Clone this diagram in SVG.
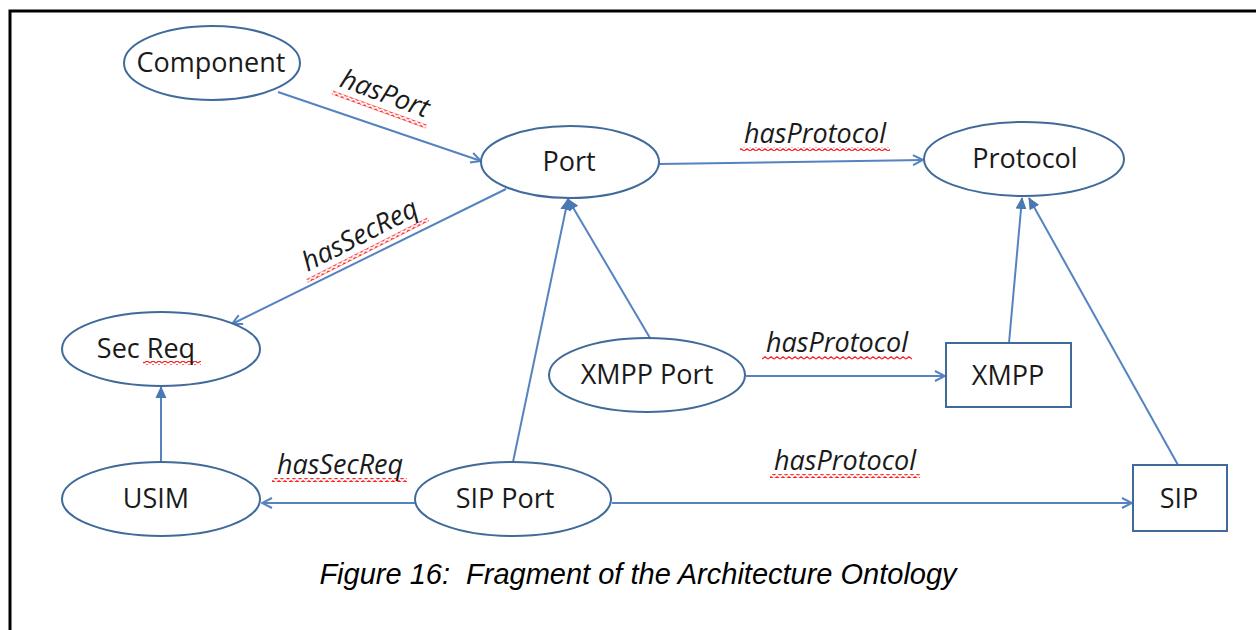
<svg xmlns="http://www.w3.org/2000/svg" width="1256" height="630" viewBox="0 0 1256 630">
  <style>
    .node { fill: #ffffff; stroke: #3f6a99; stroke-width: 2; }
    .name { font-family: "Open Sans", "Liberation Sans", sans-serif; font-size: 27px; fill: #1a1a1a; text-anchor: middle; }
    .rel { font-family: "Open Sans", "Liberation Sans", sans-serif; font-size: 27px; font-style: italic; fill: #1a1a1a; text-anchor: middle; }
    .edge { fill: none; stroke: #5583c0; stroke-width: 2; }
    .assoc { marker-end: url(#open); }
    .isa { marker-end: url(#solid); }
    .squiggle { fill: url(#wave); }
    .caption { font-family: "Liberation Sans", Arial, sans-serif; font-size: 29px; font-style: italic; fill: #000; text-anchor: middle; white-space: pre; }
  </style>
  <defs>
    <marker id="open" viewBox="0 0 12 12" refX="11" refY="6" markerWidth="12" markerHeight="12" markerUnits="userSpaceOnUse" orient="auto">
      <path d="M1,1 L11,6 L1,11" fill="none" stroke="#5583c0" stroke-width="2"/>
    </marker>
    <marker id="solid" viewBox="0 0 12 12" refX="11" refY="6" markerWidth="12" markerHeight="12" markerUnits="userSpaceOnUse" orient="auto">
      <path d="M0,0.5 L12,6 L0,11.5 Z" fill="#4a78b5"/>
    </marker>
    <pattern id="wave" x="0" y="0" width="6" height="4" patternUnits="userSpaceOnUse">
      <path d="M0,3 L3,0.8 L6,3" fill="none" stroke="#ff2020" stroke-width="1.3"/>
    </pattern>
  </defs>

  <!-- page frame -->
  <path d="M10,630 L10,11 L1256,11" fill="none" stroke="#000" stroke-width="3"/>

  <!-- connectors -->
  <g id="connectors">
    <line class="edge assoc" x1="278" y1="92" x2="481" y2="161"/>
    <line class="edge assoc" x1="659" y1="164" x2="923" y2="160"/>
    <line class="edge assoc" x1="506" y1="189" x2="232" y2="324"/>
    <line class="edge isa" x1="650" y1="338" x2="568" y2="199"/>
    <line class="edge isa" x1="513" y1="462" x2="568" y2="199"/>
    <line class="edge assoc" x1="746" y1="376" x2="945" y2="376"/>
    <line class="edge isa" x1="1009" y1="343" x2="1022" y2="198"/>
    <line class="edge isa" x1="1178" y1="465" x2="1029" y2="198"/>
    <line class="edge isa" x1="161" y1="462" x2="161" y2="387"/>
    <line class="edge assoc" x1="415" y1="503" x2="262" y2="503"/>
    <line class="edge assoc" x1="612" y1="503" x2="1132" y2="503"/>

    <!-- relation labels -->
    <g transform="translate(382,102) rotate(20)">
      <rect class="squiggle" x="-50" y="6" width="100" height="4"/>
      <text class="rel" x="0" y="0">hasPort</text>
    </g>
    <g transform="translate(364,243) rotate(-27)">
      <rect class="squiggle" x="-68" y="6" width="136" height="4"/>
      <text class="rel" x="0" y="0">hasSecReq</text>
    </g>
    <rect class="squiggle" x="740" y="147" width="150" height="4"/>
    <text class="rel" x="815" y="143">hasProtocol</text>
    <rect class="squiggle" x="762" y="356" width="150" height="4"/>
    <text class="rel" x="837" y="352">hasProtocol</text>
    <rect class="squiggle" x="272" y="478" width="135" height="4"/>
    <text class="rel" x="340" y="474">hasSecReq</text>
    <rect class="squiggle" x="770" y="474" width="150" height="4"/>
    <text class="rel" x="845" y="470">hasProtocol</text>
  </g>

  <!-- concept nodes -->
  <g id="component">
    <ellipse class="node" cx="212" cy="63" rx="88" ry="37"/>
    <text class="name" x="211" y="72">Component</text>
  </g>
  <g id="port">
    <ellipse class="node" cx="570" cy="162" rx="89" ry="36"/>
    <text class="name" x="569" y="171">Port</text>
  </g>
  <g id="protocol">
    <ellipse class="node" cx="1024" cy="159" rx="100" ry="37"/>
    <text class="name" x="1025" y="168">Protocol</text>
  </g>
  <g id="secreq">
    <ellipse class="node" cx="161" cy="349" rx="99" ry="37"/>
    <rect class="squiggle" x="143" y="361" width="58" height="4"/>
    <text class="name" x="146" y="358">Sec Req</text>
  </g>
  <g id="xmpp-port">
    <ellipse class="node" cx="647" cy="375" rx="98" ry="37"/>
    <text class="name" x="647" y="384">XMPP Port</text>
  </g>
  <g id="xmpp">
    <rect class="node" x="946" y="343" width="125" height="64"/>
    <text class="name" x="1008" y="385">XMPP</text>
  </g>
  <g id="usim">
    <ellipse class="node" cx="161" cy="499" rx="99" ry="37"/>
    <text class="name" x="156" y="508">USIM</text>
  </g>
  <g id="sip-port">
    <ellipse class="node" cx="513" cy="499" rx="98" ry="37"/>
    <text class="name" x="505" y="508">SIP Port</text>
  </g>
  <g id="sip">
    <rect class="node" x="1133" y="465" width="94" height="66"/>
    <text class="name" x="1179" y="508">SIP</text>
  </g>

  <text class="caption" x="638" y="584" xml:space="preserve">Figure 16:  Fragment of the Architecture Ontology</text>
</svg>
